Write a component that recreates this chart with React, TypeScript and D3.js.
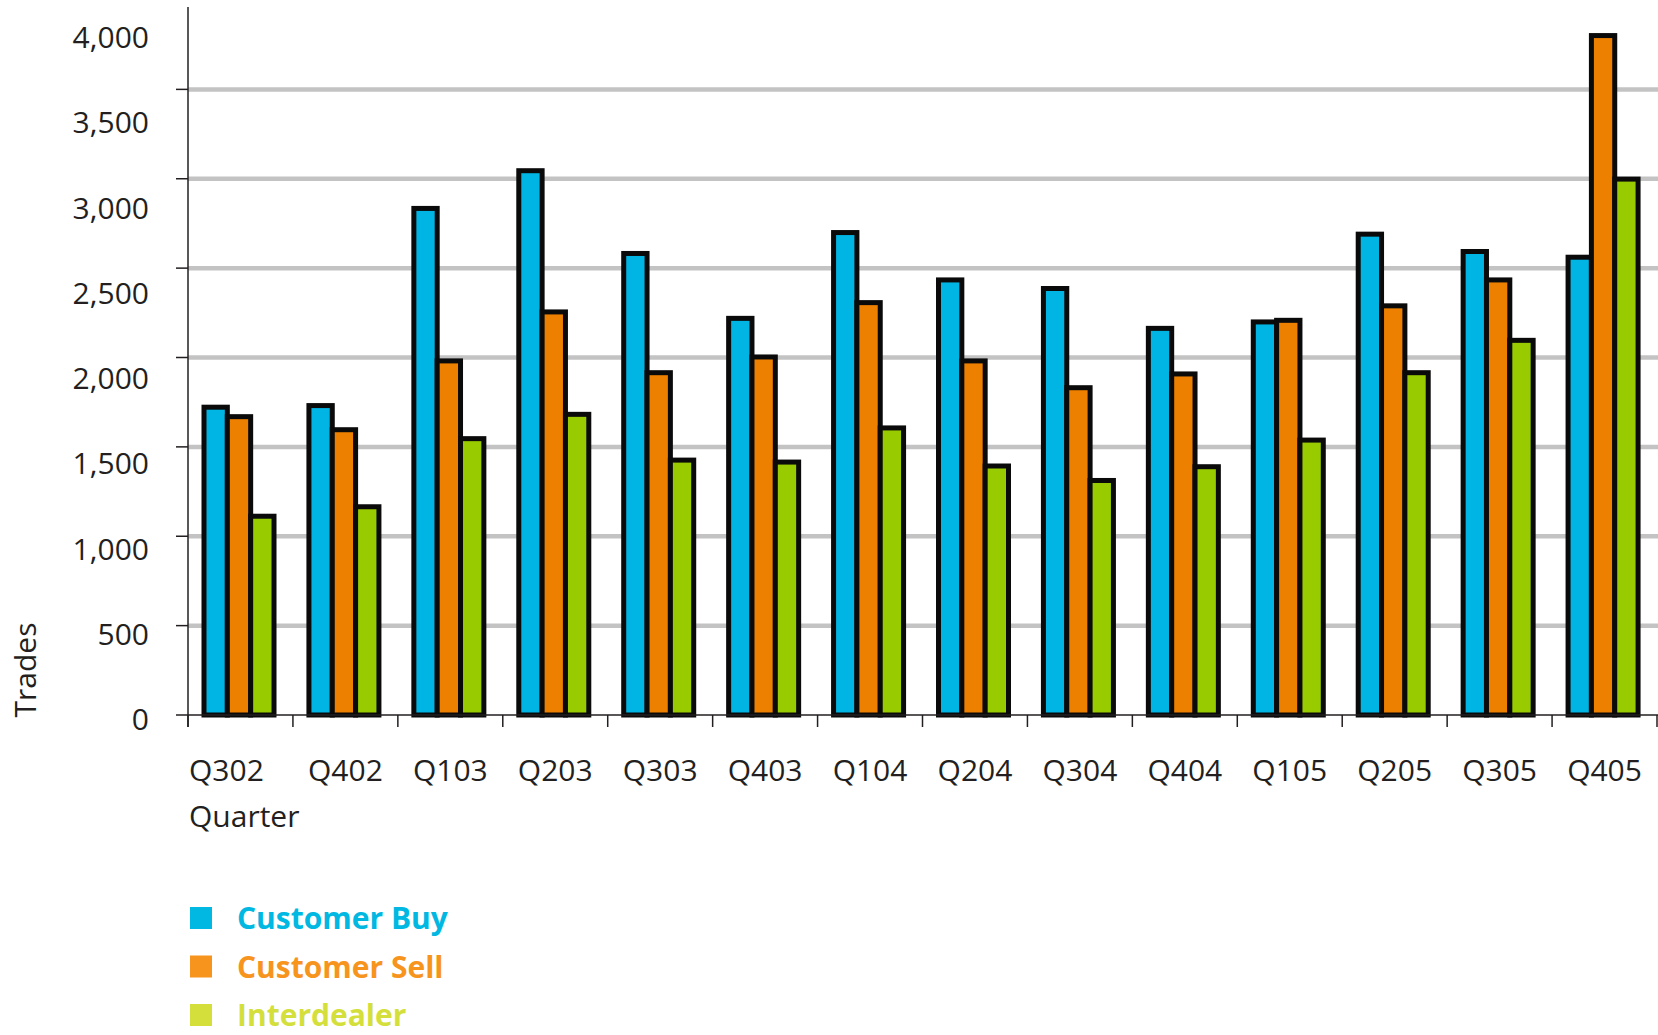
import React from 'react';
import * as d3 from 'd3';

// quarters and trade counts
const quarters = ['Q302', 'Q402', 'Q103', 'Q203', 'Q303', 'Q403', 'Q104', 'Q204', 'Q304', 'Q404', 'Q105', 'Q205', 'Q305', 'Q405'];
const customerBuy = [1722, 1731, 2834, 3045, 2582, 2219, 2699, 2434, 2386, 2163, 2199, 2690, 2593, 2561];
const customerSell = [1669, 1596, 1981, 2255, 1915, 2003, 2307, 1981, 1831, 1908, 2208, 2289, 2434, 3801];
const interdealer = [1112, 1165, 1546, 1682, 1426, 1415, 1606, 1393, 1312, 1389, 1538, 1915, 2096, 2998];
const seriesNames = ['Customer Buy', 'Customer Sell', 'Interdealer'];
const yTickValues = [0, 500, 1000, 1500, 2000, 2500, 3000, 3500, 4000];

const barColors = ['#00b4e4', '#ee8000', '#99cc00'];
const legendColors = ['#00b8e2', '#f7941e', '#d4df3c'];
const textColor = '#231f20';
const font = '"Open Sans", "Noto Sans", sans-serif';

export default function App() {
    const width = 1658;
    const height = 1035;
    const left = 188;
    const right = 1657;
    const baseY = 715;

    const series = [customerBuy, customerSell, interdealer];

    const x = d3.scaleBand<string>()
        .domain(quarters)
        .range([left, right]);

    // sub-band for the three bars inside one quarter
    const xs = d3.scaleBand<string>()
        .domain(seriesNames)
        .range([16, 86]);

    const y = d3.scaleLinear()
        .domain([0, 4000])
        .range([baseY, 0]);

    // tick labels in the original sit a little off the grid lines
    const yLabel = d3.scaleLinear()
        .domain([0, 4000])
        .range([730, 48]);

    const fmt = d3.format(',');
    const boundaries = quarters.map(q => x(q) as number).concat([right]);

    return (
        <svg width={width} height={height} style={{ position: 'absolute', left: 0, top: 0, background: '#fff' }}>
            {/* grid lines */}
            {yTickValues.filter(v => v > 0 && v < 4000).map(v => (
                <line key={'g' + v} x1={left} x2={width} y1={y(v)} y2={y(v)}
                    stroke="#c3c3c3" strokeWidth={4.5} />
            ))}

            {/* bars */}
            {quarters.map((q, i) => (
                <g key={q} transform={`translate(${x(q)},0)`}>
                    {series.map((s, j) => (
                        <rect key={j}
                            x={xs(seriesNames[j])}
                            y={y(s[i])}
                            width={xs.bandwidth()}
                            height={y(0) - y(s[i])}
                            fill={barColors[j]}
                            stroke="#0a0a0a"
                            strokeWidth={5} />
                    ))}
                </g>
            ))}

            {/* y axis */}
            <line x1={left} x2={left} y1={7} y2={727} stroke={textColor} strokeWidth={1.5} />
            {yTickValues.filter(v => v > 0 && v < 4000).map(v => (
                <line key={'t' + v} x1={176} x2={left} y1={y(v)} y2={y(v)} stroke={textColor} strokeWidth={1.5} />
            ))}
            {yTickValues.map(v => (
                <text key={'l' + v} x={149} y={yLabel(v)} textAnchor="end"
                    fontFamily={font} fontSize={30} fill={textColor}>{fmt(v)}</text>
            ))}

            {/* x axis */}
            <line x1={176} x2={width} y1={baseY} y2={baseY} stroke={textColor} strokeWidth={1.5} />
            {boundaries.map((b, i) => (
                <line key={'xb' + i} x1={b} x2={b} y1={baseY} y2={727} stroke={textColor} strokeWidth={1.5} />
            ))}
            {quarters.map((q, i) => (
                <text key={'xl' + q}
                    x={i === 0 ? (x(q) as number) + 1 : (x(q) as number) + x.bandwidth() / 2}
                    y={781}
                    textAnchor={i === 0 ? 'start' : 'middle'}
                    fontFamily={font} fontSize={30} fill={textColor}>{q}</text>
            ))}

            {/* axis titles */}
            <text x={189} y={827} fontFamily={font} fontSize={30} fill={textColor}>Quarter</text>
            <text transform="translate(36,670) rotate(-90)" textAnchor="middle"
                fontFamily={font} fontSize={30} fill={textColor}>Trades</text>

            {/* legend */}
            {seriesNames.map((name, i) => (
                <g key={name} transform={`translate(190,${907 + i * 48.5})`}>
                    <rect x={0} y={0} width={22} height={22} fill={legendColors[i]} />
                    <text x={47} y={22} fontFamily={font} fontSize={30} fontWeight="bold"
                        fill={legendColors[i]}>{name}</text>
                </g>
            ))}
        </svg>
    );
}
